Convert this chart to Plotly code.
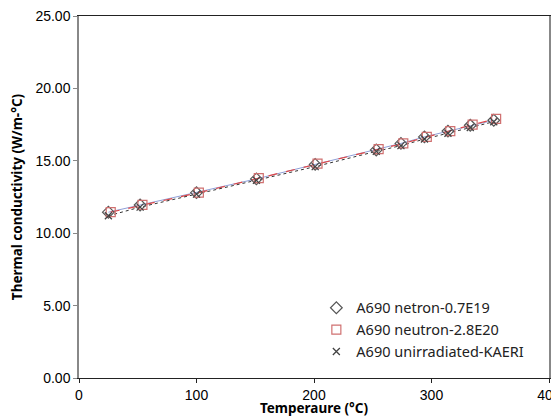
import plotly.graph_objects as go

temps_a = [25, 52, 100, 151, 201, 253, 274, 294, 314, 333, 353]
k_a = [11.45, 11.95, 12.80, 13.75, 14.75, 15.75, 16.20, 16.65, 17.05, 17.45, 17.80]

temps_b = [27, 54, 102, 153, 203, 255, 276, 296, 316, 335, 355]
k_b = [11.45, 11.95, 12.80, 13.80, 14.80, 15.80, 16.20, 16.65, 17.05, 17.50, 17.90]

temps_c = [25, 52, 100, 151, 201, 253, 274, 294, 314, 333, 353]
k_c = [11.20, 11.80, 12.70, 13.65, 14.60, 15.65, 16.05, 16.50, 16.90, 17.30, 17.70]

names = ["A690 netron-0.7E19", "A690 neutron-2.8E20", "A690 unirradiated-KAERI"]

fig = go.Figure()
# trend lines (no legend)
fig.add_trace(go.Scatter(x=temps_a, y=k_a, mode="lines", showlegend=False,
                         line=dict(color="#8f9fd8", width=1)))
fig.add_trace(go.Scatter(x=temps_b, y=k_b, mode="lines", showlegend=False,
                         line=dict(color="#e04848", width=1.2, dash="dash")))
fig.add_trace(go.Scatter(x=temps_c, y=k_c, mode="lines", showlegend=False,
                         line=dict(color="#333333", width=1, dash="dot")))
# markers
fig.add_trace(go.Scatter(x=temps_a, y=k_a, mode="markers", name=names[0],
                         marker=dict(symbol="diamond-open", size=9, color="#555555", line=dict(width=1.2))))
fig.add_trace(go.Scatter(x=temps_b, y=k_b, mode="markers", name=names[1],
                         marker=dict(symbol="square-open", size=9, color="#d07070", line=dict(width=1.2))))
fig.add_trace(go.Scatter(x=temps_c, y=k_c, mode="markers", name=names[2],
                         marker=dict(symbol="x-thin-open", size=7, color="#444444", line=dict(width=1.3, color="#444444"))))

# page has an 8px body margin; compensate so the plot lands where the reference has it
fig.update_layout(
    width=551, height=409,
    margin=dict(l=71, r=10, t=8, b=39),
    paper_bgcolor="white", plot_bgcolor="white",
    font=dict(family="Liberation Sans, Arial", size=14, color="black"),
    legend=dict(x=0.505, y=0.238, xanchor="left", yanchor="top",
                font=dict(family="Noto Sans", size=14.5, color="#222222"),
                bgcolor="rgba(0,0,0,0)", tracegroupgap=0, itemwidth=30),
    showlegend=True,
)
fig.update_xaxes(range=[0, 400], tickvals=[0, 100, 200, 300, 400],
                 showgrid=False, zeroline=False, automargin=False,
                 ticklabeloverflow="allow",
                 showline=True, linecolor="#222222", linewidth=1.2, mirror=True,
                 ticks="outside", ticklen=4, tickcolor="#222222",
                 title=dict(text="Temperaure (°C)", standoff=0,
                            font=dict(family="Noto Sans", size=13.5, color="black", weight="bold")))
fig.update_yaxes(range=[0, 25], tickvals=[0, 5, 10, 15, 20, 25], tickformat=".2f",
                 showgrid=False, zeroline=False, automargin=False,
                 ticklabeloverflow="allow",
                 showline=True, linecolor="#888888", linewidth=1.5, mirror=True,
                 ticks="outside", ticklen=4, tickcolor="#888888",
                 title=dict(text="Thermal conductivity (W/m-°C)", standoff=10,
                            font=dict(family="Noto Sans", size=13.5, color="black", weight="bold")))

fig.write_html("out.html")
